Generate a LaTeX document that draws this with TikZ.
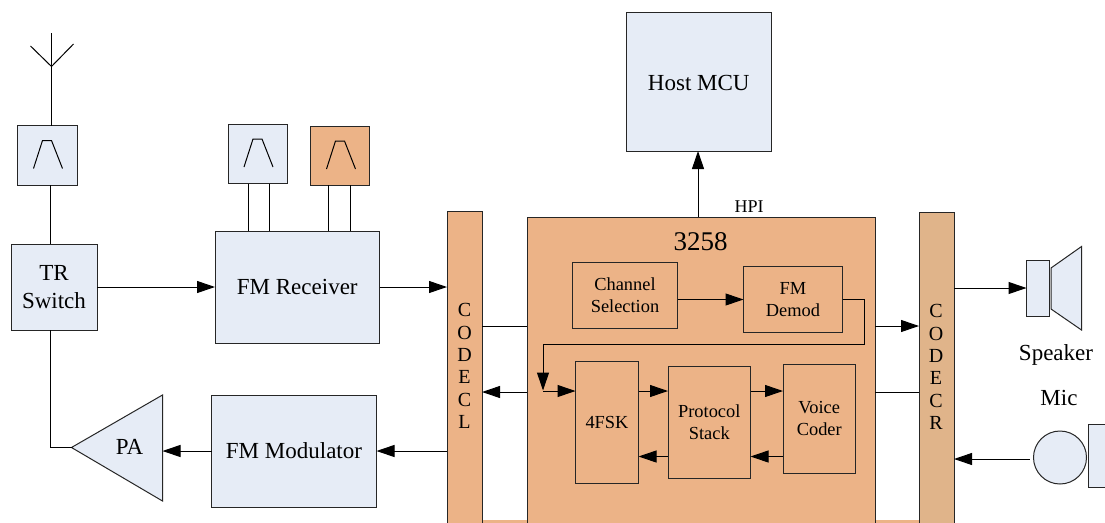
\documentclass[tikz,border=0pt]{standalone}
\usepackage{fontspec}
\setmainfont{Liberation Serif}
\usetikzlibrary{arrows.meta}
\definecolor{lblue}{HTML}{E6ECF6}
\definecolor{orng}{HTML}{ECB387}
\definecolor{tan2}{HTML}{E0B48A}
\newcommand{\fs}[1]{\fontsize{#1}{#1}\selectfont}
\newcommand{\bx}[7]{\node[#6, minimum width={(#4-#2)*1pt}, minimum height={(#5-#3)*1pt}] (#1) at ({(#2+#4)/2},{(#3+#5)/2}) {#7};}
\newcommand{\bandpass}[1]{\draw[wire, shift={(#1.north west)}] (16,43) -- (25,15) -- (34,15) -- (45,43);}
\tikzset{
  base/.style={draw=black!85, line width=1pt, inner sep=0pt, outer sep=0pt, align=center, text=black},
  bluebox/.style={base, fill=lblue},
  orbox/.style={base, fill=orng},
  tanbox/.style={base, fill=tan2},
  wire/.style={draw=black, line width=1pt},
  arr/.style={wire, -{Triangle[length=18pt,width=12pt]}},
  big/.style={font=\fs{23}, align=center},
  small/.style={font=\fs{18.4}, align=center},
}
\begin{document}
\begin{tikzpicture}[x=1pt,y=-1pt]
\useasboundingbox (0,0) rectangle (1105,522);
\clip (0,0) rectangle (1105,522);
\fill[white] (0,0) rectangle (1105,522);
% bottom strip
\fill[orng] (482,520) rectangle (919,523);
% boxes
\bx{filtA}{17.5}{125.5}{77}{185}{bluebox}{}
\bx{filtB}{228}{124}{287.5}{183.5}{bluebox}{}
\bx{filtC}{310.5}{126}{369.5}{185}{orbox}{}
\bx{tr}{11}{244}{97}{330}{bluebox,big}{TR\\[5.5pt]Switch}
\bx{rx}{215}{231}{379.5}{343}{bluebox,big}{FM Receiver}
\bx{mod}{211.5}{395}{376.5}{507}{bluebox,big}{FM Modulator}
\bx{host}{626.5}{12}{771}{151}{bluebox,big}{\rule{0pt}{18.2pt}Host MCU}
\bx{codl}{447}{211}{482}{540}{orbox}{}
\bx{codr}{919}{212.5}{954}{540}{tanbox}{}
\bx{chip}{527}{217}{875}{540}{orbox}{}
\bx{chan}{572.5}{262.5}{677.5}{328.5}{orbox,small}{Channel\\[3.5pt]Selection}
\bx{demod}{743.5}{266.5}{842.5}{332.5}{orbox,small}{FM\\[3.5pt]Demod}
\bx{fsk}{575.5}{361.5}{638.5}{483}{orbox,small}{4FSK}
\bx{stack}{668}{366}{750.5}{478}{orbox,small}{Protocol\\[3.5pt]Stack}
\bx{voice}{783}{364.5}{855.5}{473}{orbox,small}{Voice\\[4pt]Coder}
\bx{spkA}{1026.5}{260.5}{1049.5}{316.5}{bluebox}{}
\bx{micA}{1088}{424}{1125}{487}{bluebox}{}
\node[base, fill=lblue, circle, minimum size=53pt] (micB) at (1060,457.5) {};
% PA triangle
\draw[base, fill=lblue] (71.5,447.5) coordinate (paTip) -- (162.5,395) -- (162.5,501) coordinate (paLow) -- cycle;
\node[big, inner sep=0pt] (pa) at (129.5,447) {PA};
\coordinate (paBack) at (162.5,451);
% speaker cone
\draw[base, fill=lblue] (1051,268) -- (1081.5,246.5) -- (1081.5,330) -- (1051,309) -- cycle;
% band-pass glyphs
\bandpass{filtA}
\bandpass{filtB}
\bandpass{filtC}
% antenna
\coordinate (antTop) at (51.5,33);
\coordinate (antJoin) at (51.5,66.5);
\draw[wire] (antTop) -- (filtA.north -| antTop);
\draw[wire] (30.5,46) -- (antJoin) -- (73.5,44);
% texts
\node[font=\fs{27}, inner sep=0pt] (chipname) at (700.5,242) {3258};
\node[font=\fs{18}, inner sep=0pt] (hpi) at (749,207) {HPI};
\node[font=\fs{20}, align=center, inner sep=0pt] (codltxt) at (464.5,366) {C\\[2.4pt]O\\[2.4pt]D\\[2.4pt]E\\[2.4pt]C\\[2.4pt]L};
\node[font=\fs{20}, align=center, inner sep=0pt] (codrtxt) at (936,367) {C\\[2.4pt]O\\[2.4pt]D\\[2.4pt]E\\[2.4pt]C\\[2.4pt]R};
\node[big, inner sep=0pt] (spktxt) at (1056,355) {Speaker};
\node[big, inner sep=0pt] (mictxt) at (1059,398) {Mic};
% plain connectors
\draw[wire] (filtA.south -| 50.5,0) -- (tr.north -| 50.5,0);
\draw[wire] (filtB.south -| 248,0) -- (rx.north -| 248,0);
\draw[wire] (filtB.south -| 269.5,0) -- (rx.north -| 269.5,0);
\draw[wire] (filtC.south -| 328.5,0) -- (rx.north -| 328.5,0);
\draw[wire] (filtC.south -| 350,0) -- (rx.north -| 350,0);
\draw[wire] (tr.south -| 50.5,0) -- (50.5,447.5) -- (paTip);
\draw[wire] (codl.east |- 0,326) -- (chip.west |- 0,326);
\draw[wire] (chip.east |- 0,392) -- (codr.west |- 0,392);
% arrows
\draw[arr] (tr.east |- 0,287) -- (rx.west |- 0,287);
\draw[arr] (rx.east |- 0,287) -- (codl.west |- 0,287);
\draw[arr] (chip.north -| 698,0) -- (host.south -| 698,0);
\draw[arr] (chan.east |- 0,299.5) -- (demod.west |- 0,299.5);
\draw[arr] (demod.east |- 0,299.5) -- (864,299.5) -- (864,344) -- (543,344) -- (543,390.5);
\draw[arr] (543,391) -- (fsk.west |- 0,391);
\draw[arr] (fsk.east |- 0,391) -- (stack.west |- 0,391);
\draw[arr] (stack.east |- 0,391) -- (voice.west |- 0,391);
\draw[arr] (voice.west |- 0,456.5) -- (stack.east |- 0,456.5);
\draw[arr] (stack.west |- 0,456.5) -- (fsk.east |- 0,456.5);
\draw[arr] (chip.west |- 0,392) -- (codl.east |- 0,392);
\draw[arr] (chip.east |- 0,326) -- (codr.west |- 0,326);
\draw[arr] (codl.west |- 0,451) -- (mod.east |- 0,451);
\draw[arr] (mod.west |- 0,451) -- (paBack);
\draw[arr] (codr.east |- 0,288) -- (spkA.west |- 0,288);
\draw[arr] (micB.west |- 0,459) ++(-4,0) -- (codr.east |- 0,459);
\end{tikzpicture}
\end{document}
